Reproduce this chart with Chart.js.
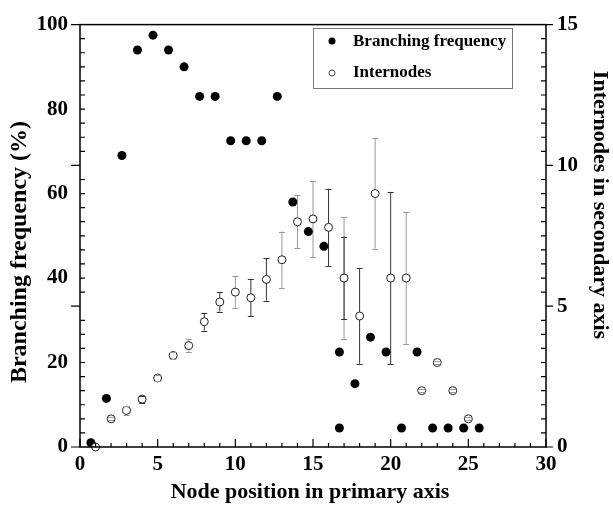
<!DOCTYPE html>
<html>
<head>
<meta charset="utf-8">
<script src="https://cdn.jsdelivr.net/npm/chart.js@4/dist/chart.umd.min.js"></script>
<style>
  body { margin: 0; background: #fff; }
  canvas { display: block; }
</style>
</head>
<body>
<canvas id="chart" width="613" height="506"></canvas>
<script>
// Branching frequency (%) – left axis, points slightly shifted left of each node
const branchPos = [0.7, 1.7, 2.7, 3.7, 4.7, 5.7, 6.7, 7.7, 8.7, 9.7, 10.7, 11.7, 12.7, 13.7,
    14.7, 15.7, 16.7, 16.7, 17.7, 18.7, 19.7, 20.7, 21.7, 22.7, 23.7, 24.7, 25.7];
const branchFreq = [1, 11.5, 69, 94, 97.5, 94, 90, 83, 83, 72.5, 72.5, 72.5, 83, 58,
    51, 47.5, 22.5, 4.5, 15, 26, 22.5, 4.5, 22.5, 4.5, 4.5, 4.5, 4.5];

// Internodes in secondary axis – right axis, with error bars
const nodePos = [1, 2, 3, 4, 5, 6, 7, 8, 9, 10, 11, 12, 13, 14, 15, 16, 17, 18, 19, 20, 21, 22, 23, 24, 25];
const internodes = [0, 1, 1.3, 1.7, 2.45, 3.25, 3.6, 4.45, 5.15, 5.5, 5.3, 5.95, 6.65,
    8, 8.1, 7.8, 6, 4.65, 9, 6, 6, 2, 3, 2, 1];
const internodeErr = [0, 0.05, 0.15, 0.12, 0.12, 0.13, 0.22, 0.32, 0.34, 0.56, 0.65, 0.75, 1.0,
    0.95, 1.36, 1.37, 2.17, 1.69, 1.96, 3.06, 2.34, 0.05, 0.05, 0.05, 0.05];
// second (inner) bar seen only at node 17
const internodeErr2 = [0, 0, 0, 0, 0, 0, 0, 0, 0, 0, 0, 0, 0, 0, 0, 0, 1.47, 0, 0, 0, 0, 0, 0, 0, 0];

// tick labels
const xTicks = [0, 5, 10, 15, 20, 25, 30];
const yTicks = [0, 20, 40, 60, 80, 100];
const y2Ticks = [0, 5, 10, 15];

// shade of each error bar (g = grey, d = dark)
const barShade = ['g', 'g', 'g', 'd', 'g', 'g', 'g', 'd', 'd', 'g', 'd', 'd', 'g',
    'g', 'g', 'd', 'g', 'd', 'g', 'd', 'g', 'g', 'g', 'g', 'g'];

const SERIF = "'Liberation Serif', 'Times New Roman', serif";
const tickFont = { family: SERIF, size: 21, weight: 'bold' };

// Dessine le cadre, les graduations, les barres d'erreur, les titres et la légende
const decorations = {
    id: 'decorations',
    beforeDatasetsDraw(chart) {
        const { ctx } = chart;
        const x = chart.scales.x, y2 = chart.scales.y2;
        ctx.save();
        ctx.lineWidth = 1;
        nodePos.forEach((n, i) => {
            const px = x.getPixelForValue(n);
            [internodeErr[i], internodeErr2[i]].forEach((e, k) => {
                if (!e) return;
                ctx.strokeStyle = (k === 1 || barShade[i] === 'd') ? '#333' : '#999';
                ctx.beginPath();
                ctx.moveTo(px, y2.getPixelForValue(internodes[i] + e));
                ctx.lineTo(px, y2.getPixelForValue(internodes[i] - e));
                ctx.stroke();
            });
        });
        ctx.restore();
    },
    afterDatasetsDraw(chart) {
        const { ctx } = chart;
        const x = chart.scales.x, y2 = chart.scales.y2;
        ctx.save();
        ctx.lineWidth = 1;
        nodePos.forEach((n, i) => {
            const px = x.getPixelForValue(n);
            [internodeErr[i], internodeErr2[i]].forEach((e, k) => {
                if (!e) return;
                ctx.strokeStyle = (k === 1 || barShade[i] === 'd') ? '#333' : '#999';
                [internodes[i] + e, internodes[i] - e].forEach(v => {
                    const py = Math.round(y2.getPixelForValue(v)) + 0.5;
                    ctx.beginPath();
                    ctx.moveTo(px - 3, py);
                    ctx.lineTo(px + 3, py);
                    ctx.stroke();
                });
            });
        });
        ctx.restore();
    },
    afterDraw(chart) {
        const { ctx, chartArea: a } = chart;
        const x = chart.scales.x, y2 = chart.scales.y2;
        ctx.save();
        ctx.strokeStyle = '#000';
        ctx.lineWidth = 1.5;
        ctx.strokeRect(a.left, a.top, a.right - a.left, a.bottom - a.top);

        ctx.lineWidth = 1.2;
        ctx.beginPath();
        // bottom axis: inward ticks
        for (let v = 0; v <= 30; v++) {
            const px = x.getPixelForValue(v);
            ctx.moveTo(px, a.bottom);
            ctx.lineTo(px, a.bottom - (v % 5 === 0 ? 8 : 4));
        }
        // both vertical axes follow the internode scale
        for (let v = 0; v <= 15; v += 0.5) {
            const py = y2.getPixelForValue(v);
            if (v % 5 === 0) {
                ctx.moveTo(a.left, py); ctx.lineTo(a.left - 9, py);
                ctx.moveTo(a.right, py); ctx.lineTo(a.right + 7, py);
            } else {
                ctx.moveTo(a.left, py); ctx.lineTo(a.left + 5, py);
                ctx.moveTo(a.right, py); ctx.lineTo(a.right - 5, py);
            }
        }
        ctx.stroke();

        // titres des axes
        ctx.fillStyle = '#000';
        ctx.textAlign = 'center';
        ctx.textBaseline = 'middle';
        ctx.font = 'bold 22px ' + SERIF;
        ctx.fillText('Node position in primary axis', 310, 492);

        ctx.save();
        ctx.translate(20, 252);
        ctx.rotate(-Math.PI / 2);
        ctx.font = 'bold 24px ' + SERIF;
        ctx.fillText('Branching frequency (%)', 0, 0);
        ctx.restore();

        ctx.save();
        ctx.translate(600, 205);
        ctx.rotate(Math.PI / 2);
        ctx.font = 'bold 22px ' + SERIF;
        ctx.fillText('Internodes in secondary axis', 0, 0);
        ctx.restore();

        // légende
        ctx.lineWidth = 1;
        ctx.strokeStyle = '#777';
        ctx.strokeRect(313.5, 28.5, 199, 60);
        ctx.fillStyle = '#000';
        ctx.beginPath();
        ctx.arc(332, 41, 3.5, 0, Math.PI * 2);
        ctx.fill();
        ctx.strokeStyle = '#444';
        ctx.beginPath();
        ctx.arc(332, 73, 3, 0, Math.PI * 2);
        ctx.stroke();
        ctx.textAlign = 'left';
        ctx.font = 'bold 17px ' + SERIF;
        ctx.fillText('Branching frequency', 353, 42);
        ctx.fillText('Internodes', 353, 73);
        ctx.restore();
    }
};

document.addEventListener('DOMContentLoaded', function() {
    const ctx = document.getElementById('chart');

    new Chart(ctx, {
        type: 'scatter',
        data: {
            datasets: [{
                label: 'Internodes',
                data: nodePos.map((n, i) => ({ x: n, y: internodes[i] })),
                yAxisID: 'y2',
                pointRadius: 4,
                pointBackgroundColor: '#fff',
                pointBorderColor: '#222',
                pointBorderWidth: 1,
                clip: false
            }, {
                label: 'Branching frequency',
                data: branchPos.map((n, i) => ({ x: n, y: branchFreq[i] })),
                yAxisID: 'y',
                pointRadius: 4.5,
                pointBackgroundColor: '#000',
                pointBorderColor: '#000',
                pointBorderWidth: 0,
                clip: false
            }]
        },
        options: {
            responsive: false,
            animation: false,
            layout: { padding: { top: 17, left: 0, right: 0, bottom: 0 } },
            plugins: {
                legend: { display: false },
                tooltip: { enabled: false }
            },
            scales: {
                x: {
                    type: 'linear',
                    min: 0,
                    max: 30,
                    afterBuildTicks: s => { s.ticks = xTicks.map(v => ({ value: v })); },
                    afterFit: s => { s.height = 59; },
                    grid: { display: false, drawTicks: false },
                    border: { display: false },
                    ticks: { font: tickFont, color: '#000', padding: 5, maxRotation: 0 }
                },
                y: {
                    position: 'left',
                    min: 0,
                    max: 100,
                    afterBuildTicks: s => { s.ticks = yTicks.map(v => ({ value: v })); },
                    afterFit: s => { s.width = 80; },
                    grid: { display: false, drawTicks: false },
                    border: { display: false },
                    ticks: { font: tickFont, color: '#000', padding: 12 }
                },
                y2: {
                    position: 'right',
                    min: 0,
                    max: 15,
                    afterBuildTicks: s => { s.ticks = y2Ticks.map(v => ({ value: v })); },
                    afterFit: s => { s.width = 67; },
                    grid: { display: false, drawTicks: false },
                    border: { display: false },
                    ticks: { font: tickFont, color: '#000', padding: 11 }
                }
            }
        },
        plugins: [decorations]
    });
});
</script>
</body>
</html>
